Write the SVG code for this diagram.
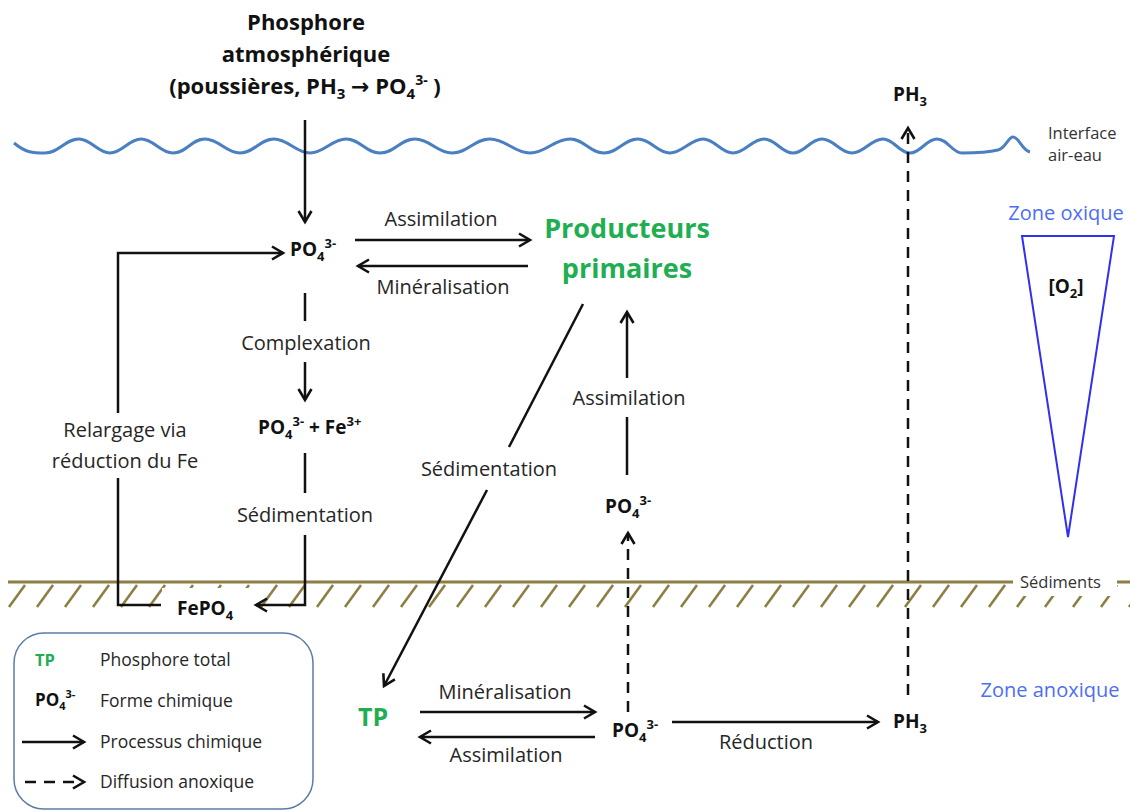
<svg xmlns="http://www.w3.org/2000/svg" width="1130" height="812" viewBox="0 0 1130 812">
<style>
text{font-family:"Open Sans","Liberation Sans",sans-serif;}
.lbl{font-size:20px;fill:#262626;text-anchor:middle;}
.chem{font-size:19px;font-weight:bold;fill:#111;}
.green{fill:#1fae52;font-weight:bold;}
.blue{fill:#4d6ef2;font-size:20px;}
.small{font-size:16.5px;fill:#333;}
.leg{font-size:17.5px;fill:#262626;}
.ln{stroke:#111;stroke-width:2.5;fill:none;}
.arr{stroke:#111;stroke-width:2.5;fill:none;marker-end:url(#ah);}
.dash{stroke:#111;stroke-width:2.5;fill:none;stroke-dasharray:11 8;marker-end:url(#ah);}
</style>
<defs>
<marker id="ah" markerUnits="userSpaceOnUse" markerWidth="30" markerHeight="30" viewBox="-15 -15 30 30" refX="0" refY="0" orient="auto">
<path d="M-11,-6.5 L0,0 L-11,6.5" fill="none" stroke="#111" stroke-width="2.6" stroke-linejoin="miter"/>
</marker>
<pattern id="hatch" patternUnits="userSpaceOnUse" x="6" y="583" width="28" height="26">
<line x1="3" y1="24" x2="19" y2="2" stroke="#8c7f45" stroke-width="2.6"/>
</pattern>
</defs>
<rect width="1130" height="812" fill="#fff"/>

<g id="water-surface">
<path d="M14,143 C26,153 33,153 45,153 C59,153 65,139 79,139 C91,139 98,153 110,153 C122,153 129,139 141,139 C154,139 160,153 173,153 C187,153 191,139 205,139 C219,139 226,153 240,153 C254,153 260,139 274,139 C288,139 296,153 310,153 C324,153 332,139 346,139 C360,139 366,153 380,153 C395,153 400,139 415,139 C430,139 437,153 452,153 C468,153 474,139 490,139 C506,139 514,153 530,153 C546,153 554,139 570,139 C584,139 590,153 604,153 C618,153 624,139 638,139 C651,139 657,153 670,153 C682,153 691,139 703,139 C715,139 721,153 733,153 C745,153 752,139 764,139 C776,139 781,153 793,153 C805,153 810,139 822,139 C834,139 840,153 852,153 C864,153 871,139 883,139 C894,139 899,153 910,153 C921,153 926,139 937,139 C948,139 952,153 962,153 C975,153 990,152 998,150 C1006,148 1008,137 1013,137 C1019,137 1022,150 1030,152" fill="none" stroke="#4a7fc2" stroke-width="3"/>
</g>

<g id="sediment-surface">
<rect x="6" y="583" width="1124" height="26" fill="url(#hatch)"/>
<line x1="8" y1="582" x2="1130" y2="582" stroke="#8c7f45" stroke-width="3"/>
</g>

<g id="connectors">
<line class="arr" x1="305" y1="120" x2="305" y2="222"/>
<line class="arr" x1="355" y1="240" x2="530" y2="240"/>
<line class="arr" x1="528" y1="266" x2="358" y2="266"/>
<line class="ln" x1="305" y1="293" x2="305" y2="321"/>
<line class="arr" x1="305" y1="362" x2="305" y2="400"/>
<line class="ln" x1="305" y1="453" x2="305" y2="493"/>
<path class="arr" d="M305,535 V605 H256"/>
<path class="ln" d="M161,605 H118 V478"/>
<path class="arr" d="M118,413 V253 H283"/>
<line class="ln" x1="583" y1="304" x2="509" y2="447"/>
<line class="arr" x1="487" y1="490" x2="384" y2="686"/>
<line class="ln" x1="627" y1="475" x2="627" y2="417"/>
<line class="arr" x1="627" y1="378" x2="627" y2="312"/>
<line class="dash" x1="628" y1="712" x2="628" y2="533"/>
<line class="arr" x1="420" y1="712" x2="595" y2="712"/>
<line class="arr" x1="595" y1="737" x2="420" y2="737"/>
<line class="arr" x1="672" y1="722" x2="878" y2="722"/>
<line class="dash" x1="908" y1="695" x2="908" y2="128"/>
</g>

<g id="atmospheric-phosphorus">
<text x="306" y="30" font-size="22" font-weight="bold" fill="#111" text-anchor="middle">Phosphore</text>
<text x="306" y="62" font-size="22" font-weight="bold" fill="#111" text-anchor="middle">atmosphérique</text>
<text x="305" y="94" font-size="22" font-weight="bold" fill="#111" text-anchor="middle">(poussières, PH<tspan font-size="15" dy="5">3</tspan><tspan dy="-5"> </tspan><tspan font-family="'DejaVu Sans',sans-serif" font-size="22">→</tspan><tspan> PO</tspan><tspan font-size="15" dy="5">4</tspan><tspan font-size="14" dy="-14">3-</tspan><tspan dy="9"> )</tspan></text>
</g>

<g id="po4-water">
<text class="chem" x="290" y="256">PO<tspan font-size="13" dy="5">4</tspan><tspan font-size="13" dy="-13">3-</tspan></text>
</g>

<g id="primary-producers">
<text class="green" x="627" y="238" font-size="27" text-anchor="middle">Producteurs</text>
<text class="green" x="627" y="278" font-size="27" text-anchor="middle">primaires</text>
</g>

<g id="po4-fe">
<text class="chem" x="258" y="434">PO<tspan font-size="13" dy="5">4</tspan><tspan font-size="13" dy="-13">3-</tspan><tspan dy="8"> + Fe</tspan><tspan font-size="13" dy="-8">3+</tspan></text>
</g>

<g id="fepo4">
<rect x="162" y="588" width="88" height="32" fill="#fff"/>
<text class="chem" x="177" y="615">FePO<tspan font-size="13" dy="5">4</tspan></text>
</g>

<g id="po4-mid">
<text class="chem" x="605" y="513">PO<tspan font-size="13" dy="5">4</tspan><tspan font-size="13" dy="-13">3-</tspan></text>
</g>

<g id="tp">
<text class="green" x="373" y="726" font-size="25" text-anchor="middle">TP</text>
</g>

<g id="po4-sediment">
<text class="chem" x="612" y="737">PO<tspan font-size="13" dy="5">4</tspan><tspan font-size="13" dy="-13">3-</tspan></text>
</g>

<g id="ph3-sediment">
<text class="chem" x="893" y="728">PH<tspan font-size="13" dy="5">3</tspan></text>
</g>

<g id="ph3-air">
<text class="chem" x="893" y="101">PH<tspan font-size="13" dy="5">3</tspan></text>
</g>

<g id="labels">
<text class="lbl" x="441" y="226">Assimilation</text>
<text class="lbl" x="443" y="294">Minéralisation</text>
<text class="lbl" x="306" y="350">Complexation</text>
<text class="lbl" x="305" y="522">Sédimentation</text>
<text class="lbl" x="125" y="437">Relargage via</text>
<text class="lbl" x="125" y="468">réduction du Fe</text>
<text class="lbl" x="489" y="476">Sédimentation</text>
<text class="lbl" x="629" y="405">Assimilation</text>
<text class="lbl" x="505" y="699">Minéralisation</text>
<text class="lbl" x="506" y="762">Assimilation</text>
<text class="lbl" x="766" y="749">Réduction</text>
</g>

<g id="interface">
<text class="small" x="1048" y="139">Interface</text>
<text class="small" x="1048" y="161">air-eau</text>
</g>

<g id="sediment-label">
<rect x="1013" y="570" width="104" height="26" fill="#fff"/>
<text class="small" x="1020" y="588">Sédiments</text>
</g>

<g id="oxygen-gradient">
<text class="blue" x="1066" y="220" text-anchor="middle">Zone oxique</text>
<polygon points="1022,236 1114,236 1068,537" fill="none" stroke="#3030ee" stroke-width="2"/>
<text class="chem" x="1066" y="293" text-anchor="middle">[O<tspan font-size="13" dy="5">2</tspan><tspan dy="-5">]</tspan></text>
<text class="blue" x="1050" y="697" text-anchor="middle">Zone anoxique</text>
</g>

<g id="legend">
<rect x="14" y="633" width="299" height="176" rx="30" ry="30" fill="#fff" stroke="#5b7ca5" stroke-width="1.5"/>
<text class="green" x="35" y="666" font-size="16.5">TP</text>
<text class="leg" x="100" y="666">Phosphore total</text>
<text x="35" y="706" font-size="17" font-weight="bold" fill="#111">PO<tspan font-size="11" dy="4">4</tspan><tspan font-size="11" dy="-12">3-</tspan></text>
<text class="leg" x="100" y="707">Forme chimique</text>
<line class="arr" x1="22" y1="742" x2="84" y2="742"/>
<text class="leg" x="100" y="748">Processus chimique</text>
<line class="dash" x1="25" y1="782" x2="84" y2="782"/>
<text class="leg" x="100" y="788">Diffusion anoxique</text>
</g>
</svg>
